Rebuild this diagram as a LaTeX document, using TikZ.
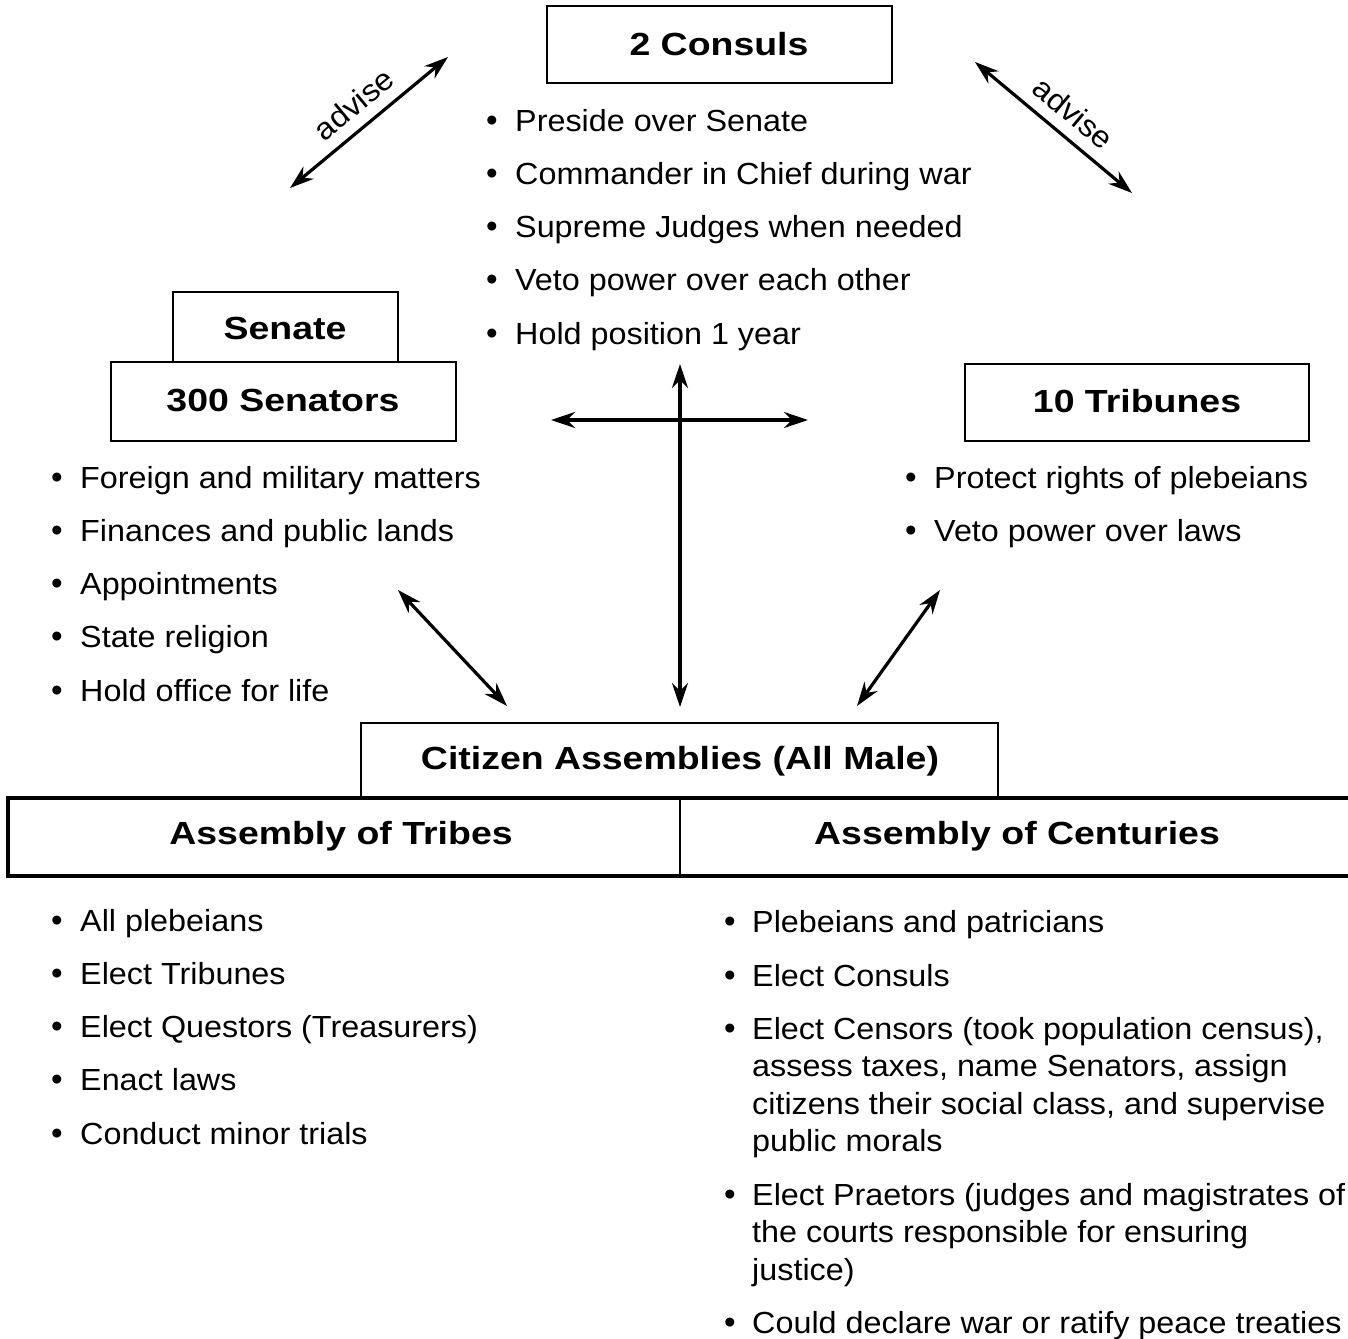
\documentclass[tikz,border=0pt]{standalone}
\usepackage{fontspec}
\setmainfont{Liberation Sans}
\newfontfamily\bodyf[FakeStretch=1.06]{Liberation Sans}
\newfontfamily\boldf[FakeStretch=1.17]{Liberation Sans}
\usetikzlibrary{arrows.meta}
\tikzset{
  body/.style={font=\bodyf\fontsize{30.5}{37.5}\selectfont, inner sep=0pt},
  ttl/.style={font=\boldf\fontsize{32}{37}\selectfont\bfseries, inner sep=0pt},
  bx/.style={draw, line width=2.4pt},
  link/.style={line width=3.2pt, {Stealth[length=24pt,width=16pt]}-{Stealth[length=24pt,width=16pt]}},
  bul/.style={font=\fontsize{33}{37.5}\selectfont, inner sep=0pt, anchor=base},
  itm/.style={body, anchor=base west, align=left},
}
\begin{document}
\begin{tikzpicture}[x=1pt,y=-1pt]
\useasboundingbox[fill=white] (0,0) rectangle (1348,1338);

% boxes
\draw[bx] (547,6) rectangle (892,83);
\node[ttl] (consuls) at (719,44) {2 Consuls};
\draw[bx] (173,292) rectangle (398,362);
\node[ttl] (senate) at (285,328) {Senate};
\draw[bx] (111,362) rectangle (456,441);
\node[ttl] (senators) at (283,401) {300 Senators};
\draw[bx] (965,364) rectangle (1309,441);
\node[ttl] (tribunes) at (1137,401) {10 Tribunes};
\draw[bx] (361,723) rectangle (998,798);
\node[ttl] (citizen) at (680,761) {Citizen Assemblies (All Male)};
\draw[line width=3.2pt] (1360,798) -- (8,798) -- (8,876) -- (1360,876);
\draw[line width=1.6pt] (680,798) -- (680,876);
\node[ttl] (tribes) at (341,836) {Assembly of Tribes};
\node[ttl] (centuries) at (1017,836) {Assembly of Centuries};

% consul list
\foreach \t [count=\i] in {Preside over Senate, Commander in Chief during war, Supreme Judges when needed, Veto power over each other, Hold position 1 year}{
  \pgfmathsetmacro{\yy}{131+53.3*(\i-1)}
  \node[bul] (cb\i) at (492,\yy) {\textbullet};
  \node[itm] (ci\i) at (515,\yy) {\t};
}
% senator list
\foreach \t [count=\i] in {Foreign and military matters, Finances and public lands, Appointments, State religion, Hold office for life}{
  \pgfmathsetmacro{\yy}{488+53.3*(\i-1)}
  \node[bul] (sb\i) at (57,\yy) {\textbullet};
  \node[itm] (si\i) at (80,\yy) {\t};
}
% tribunes list
\foreach \t [count=\i] in {Protect rights of plebeians, Veto power over laws}{
  \pgfmathsetmacro{\yy}{488+53.3*(\i-1)}
  \node[bul] (tb\i) at (911,\yy) {\textbullet};
  \node[itm] (ti\i) at (934,\yy) {\t};
}
% tribes list
\foreach \t [count=\i] in {All plebeians, Elect Tribunes, Elect Questors (Treasurers), Enact laws, Conduct minor trials}{
  \pgfmathsetmacro{\yy}{931+53.3*(\i-1)}
  \node[bul] (ab\i) at (57,\yy) {\textbullet};
  \node[itm] (ai\i) at (80,\yy) {\t};
}
% centuries list
\node[bul] (eb1) at (730,932) {\textbullet};
\node[itm] (ei1) at (752,932) {Plebeians and patricians};
\node[bul] (eb2) at (730,986) {\textbullet};
\node[itm] (ei2) at (752,986) {Elect Consuls};
\node[bul] (eb3) at (730,1039) {\textbullet};
\node[itm] (ei3a) at (752,1039) {Elect Censors (took population census),};
\node[itm] (ei3b) at (752,1076.5) {assess taxes, name Senators, assign};
\node[itm] (ei3c) at (752,1114) {citizens their social class, and supervise};
\node[itm] (ei3d) at (752,1151.5) {public morals};
\node[bul] (eb4) at (730,1205) {\textbullet};
\node[itm] (ei4a) at (752,1205) {Elect Praetors (judges and magistrates of};
\node[itm] (ei4b) at (752,1242.5) {the courts responsible for ensuring};
\node[itm] (ei4c) at (752,1280) {justice)};
\node[bul] (eb5) at (730,1333) {\textbullet};
\node[itm] (ei5) at (752,1333) {Could declare war or ratify peace treaties};

% arrows
\coordinate (a1s) at (290,188); \coordinate (a1e) at (448,57);
\coordinate (a2s) at (975,62); \coordinate (a2e) at (1132,193);
\coordinate (hl) at (551,420); \coordinate (hr) at (808,420);
\coordinate (vt) at (680,364); \coordinate (vb) at (680,707);
\coordinate (s1) at (398,590); \coordinate (s2) at (507,706);
\coordinate (t1) at (940,590); \coordinate (t2) at (857,706);
\draw[link] (a1s) -- node[body, sloped, above=11pt, pos=0.5] (adv1) {advise} (a1e);
\draw[link] (a2s) -- node[body, sloped, above=11pt, pos=0.53] (adv2) {advise} (a2e);
\draw[link] (hl) -- (hr);
\draw[link] (vt) -- (vb);
\draw[link] (s1) -- (s2);
\draw[link] (t1) -- (t2);
\end{tikzpicture}
\end{document}
